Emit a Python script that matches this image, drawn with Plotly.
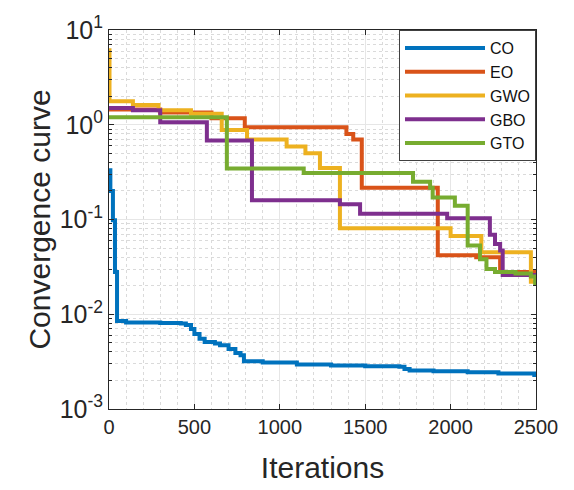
import plotly.graph_objects as go

# Best-so-far fitness per iteration (step points), log scale
co_it = [0, 8, 23, 35, 47, 100, 300, 420, 450, 480, 500, 530, 560, 620, 650, 700, 740, 770,
         790, 900, 1100, 1300, 1500, 1700, 1730, 1760, 1900, 2100, 2280, 2490, 2500]
co_val = [0.33, 0.20, 0.098, 0.028, 0.0085, 0.0082, 0.0081, 0.0080, 0.0077, 0.0070, 0.0062,
          0.0055, 0.0051, 0.0049, 0.0047, 0.0043, 0.0039, 0.0037, 0.0032, 0.0031, 0.00295,
          0.00288, 0.00283, 0.0028, 0.00265, 0.00255, 0.0025, 0.00245, 0.00237, 0.00228, 0.00228]

eo_it = [0, 300, 600, 795, 1390, 1430, 1480, 1925, 2150, 2290, 2500]
eo_val = [1.45, 1.35, 1.17, 0.94, 0.80, 0.70, 0.216, 0.042, 0.040, 0.028, 0.027]

gwo_it = [0, 3, 140, 290, 480, 660, 808, 1040, 1150, 1235, 1352, 2000, 2180, 2470, 2500]
gwo_val = [6.1, 1.77, 1.62, 1.42, 1.31, 0.88, 0.70, 0.59, 0.50, 0.35, 0.081, 0.067, 0.045,
           0.022, 0.022]

gbo_it = [0, 140, 300, 573, 837, 1352, 1470, 1980, 2230, 2260, 2290, 2305, 2500]
gbo_val = [1.5, 1.42, 1.06, 0.68, 0.16, 0.145, 0.115, 0.103, 0.069, 0.055, 0.047, 0.026, 0.026]

gto_it = [0, 690, 1140, 1780, 1880, 1895, 2025, 2100, 2172, 2210, 2260, 2380, 2470, 2495, 2500]
gto_val = [1.2, 0.345, 0.31, 0.25, 0.216, 0.171, 0.14, 0.053, 0.038, 0.030, 0.028, 0.027,
           0.025, 0.021, 0.021]

names = ["CO", "EO", "GWO", "GBO", "GTO"]
colors = ["#0072BD", "#D95319", "#EDB120", "#7E2F8E", "#77AC30"]
series = [(co_it, co_val), (eo_it, eo_val), (gwo_it, gwo_val), (gbo_it, gbo_val), (gto_it, gto_val)]

y_ticks = [0.001, 0.01, 0.1, 1, 10]
y_ticktext = ["10<sup>-3</sup>", "10<sup>-2</sup>", "10<sup>-1</sup>", "10<sup>0</sup>", "10<sup>1</sup>"]
y_minor = [m * 10.0 ** e for e in range(-3, 1) for m in range(2, 10)]

FONT = "Liberation Sans, Arial, sans-serif"
INK = "#262626"

fig = go.Figure()
for (xs, ys), name, color in zip(series, names, colors):
    fig.add_trace(go.Scatter(x=xs, y=ys, mode="lines", name=name,
                             line=dict(color=color, width=4, shape="hv")))

fig.update_layout(
    width=574, height=490,
    margin=dict(l=109, r=38, t=19, b=77),
    paper_bgcolor="white", plot_bgcolor="white",
    font=dict(family=FONT, color=INK),
    legend=dict(x=1, y=1, xanchor="right", yanchor="top",
                bgcolor="white", bordercolor="#404040", borderwidth=1,
                font=dict(size=16, color="#111111"), itemwidth=80,
                tracegroupgap=0),
)

fig.update_xaxes(
    range=[0, 2500], tickvals=[0, 500, 1000, 1500, 2000, 2500],
    ticks="inside", ticklen=5, tickcolor=INK,
    showline=True, linecolor=INK, linewidth=1, mirror="allticks",
    showgrid=True, gridcolor="#e6e6e6", gridwidth=1, zeroline=False,
    minor=dict(dtick=100, showgrid=True, gridcolor="#dadada", griddash="dot", ticks=""),
    tickfont=dict(size=20, color=INK),
    title=dict(text="Iterations", font=dict(size=30, color=INK), standoff=19),
)

fig.update_yaxes(
    type="log", range=[-3, 1], tickvals=y_ticks, ticktext=y_ticktext,
    ticks="inside", ticklen=5, tickcolor=INK,
    showline=True, linecolor=INK, linewidth=1, mirror="allticks",
    showgrid=True, gridcolor="#e6e6e6", gridwidth=1, zeroline=False,
    minor=dict(tickvals=y_minor, showgrid=True, gridcolor="#dadada", griddash="dot",
               ticks="inside", ticklen=3, tickcolor=INK),
    tickfont=dict(size=25, color=INK),
    title=dict(text="Convergence curve", font=dict(size=30, color=INK), standoff=0),
)

fig.write_html("out.html")
